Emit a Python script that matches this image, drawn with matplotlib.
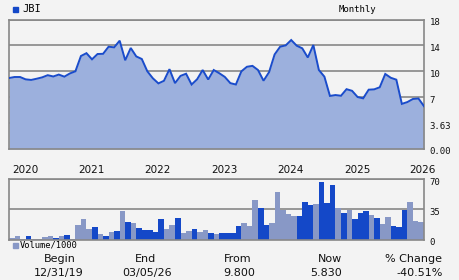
import numpy as np
import matplotlib
matplotlib.use("Agg")
import matplotlib.pyplot as plt
from matplotlib.transforms import ScaledTranslation

# ---------------- data ----------------
price = [9.22, 9.34, 9.34, 9.07, 9.00, 9.14, 9.30, 9.55, 9.40, 9.62,
         9.38, 9.75, 10.00, 12.36, 12.80, 11.85, 12.67, 12.70, 13.80, 13.70,
         14.73, 11.70, 13.60, 12.30, 11.90, 10.00, 9.19, 8.60, 8.90, 10.33,
         8.63, 9.47, 9.72, 8.47, 9.08, 10.20, 9.05, 10.20, 9.78, 9.35,
         8.63, 8.47, 10.00, 10.70, 10.84, 10.20, 8.91, 9.90, 12.60, 13.80,
         14.00, 14.83, 13.95, 13.55, 12.13, 14.06, 10.20, 9.38, 7.15, 7.25,
         7.17, 7.93, 7.74, 7.02, 6.85, 7.87, 7.91, 8.15, 9.69, 9.25,
         9.03, 6.13, 6.37, 6.77, 6.83, 5.83]

volume = [1.5, 3.5, 1.0, 3.5, 1.0, 0.8, 2.5, 3.5, 1.5, 3.5,
          4.7, 1.0, 16.4, 23.5, 11.7, 14.0, 5.9, 3.5, 8.2, 9.9,
          33.0, 20.2, 19.0, 13.2, 10.8, 10.8, 8.5, 23.7, 12.0, 16.7,
          24.8, 7.4, 9.7, 12.0, 8.5, 10.8, 7.4, 6.2, 7.4, 7.4,
          7.4, 15.5, 19.0, 15.5, 45.9, 36.6, 16.8, 19.0, 55.2, 34.3,
          29.5, 27.5, 27.2, 43.6, 40.1, 41.3, 67.0, 42.4, 63.8, 36.6,
          30.8, 34.3, 23.8, 30.8, 33.1, 28.5, 25.0, 18.0, 26.2, 15.7,
          14.5, 34.3, 43.6, 21.5, 20.3]

# 1 = up month (dark), 0 = down month (light)
vol_up = [0, 0, 0, 1, 0, 0, 0, 0, 1, 0,
          1, 0, 0, 0, 0, 1, 0, 1, 0, 1,
          0, 1, 0, 1, 1, 1, 1, 1, 0, 0,
          1, 0, 0, 1, 0, 0, 1, 0, 1, 1,
          1, 1, 0, 0, 0, 1, 1, 0, 0, 0,
          0, 0, 1, 1, 1, 0, 1, 1, 1, 0,
          1, 0, 1, 1, 1, 0, 1, 0, 0, 1,
          1, 1, 0, 0, 0]

year_labels = ["2020", "2021", "2022", "2023", "2024", "2025", "2026"]
year_pos = [2.9, 14.9, 26.9, 38.9, 50.9, 62.9, 74.8]

price_ticks = [0, 3.63, 7, 10, 14, 18]
price_tick_labels = ["0.00", "3.63", "7", "10", "14", "18"]
vol_ticks = [0, 35, 70]
vol_tick_labels = ["0", "35", "70"]

ticker = "JBI"
period = "Monthly"
footer_heads = ["Begin", "End", "From", "Now", "% Change"]
footer_vals = ["12/31/19", "03/05/26", "9.800", "5.830", "-40.51%"]

# ---------------- style ----------------
BG = "#f3f3f3"
SPINE = "#888888"
AREA = "#9cb0dd"
LINE = "#1a4ccb"
DARK = "#1448c8"
LIGHT = "#8898c6"
MONO = "DejaVu Sans Mono"

W, H = 460, 280
fig = plt.figure(figsize=(W / 100, H / 100), dpi=100, facecolor=BG)
down2 = ScaledTranslation(0, -2 / 100, fig.dpi_scale_trans)


def fx(px):
    return px / W


def fy(py):
    return 1 - py / H


# ---------------- price panel ----------------
L, R = 9, 424
ax = fig.add_axes([fx(L), fy(149), fx(R - L), (149 - 19.5) / H])
ax.set_facecolor(BG)

pos = np.arange(len(price_ticks), dtype=float)


def fwd(v):
    return np.interp(v, price_ticks, pos)


def inv(p):
    return np.interp(p, pos, price_ticks)


ax.set_yscale("function", functions=(fwd, inv))
ax.set_ylim(0, 18)
n = len(price)
xs = np.arange(n)
ax.set_xlim(0, n - 1)
ax.fill_between(xs, price, 0, color=AREA, lw=0, zorder=2)
ax.plot(xs, price, color=LINE, lw=1.4, zorder=3, solid_joinstyle="miter")
ax.set_yticks(price_ticks)
ax.set_yticklabels(price_tick_labels)
ax.yaxis.tick_right()
ax.tick_params(axis="y", length=0, pad=4, labelsize=6.5, colors="#111111")
for t in ax.get_yticklabels():
    t.set_fontfamily(MONO)
    t.set_transform(t.get_transform() + down2)
ax.set_xticks([])
ax.grid(axis="y", color=SPINE, lw=1.2, zorder=1)
for s in ax.spines.values():
    s.set_color(SPINE)
    s.set_linewidth(1.2)

# ---------------- volume panel ----------------
av = fig.add_axes([fx(L), fy(239.5), fx(R - L), (239.5 - 179.3) / H])
av.set_facecolor(BG)
nb = len(volume)
bx = np.arange(nb) + 0.5
cols = [DARK if u else LIGHT for u in vol_up]
av.bar(bx, volume, width=1.0, color=cols, lw=0, zorder=2)
av.set_xlim(0, nb)
av.set_ylim(0, 70)
av.set_yticks(vol_ticks)
av.set_yticklabels(vol_tick_labels)
av.yaxis.tick_right()
av.tick_params(axis="y", length=0, pad=4, labelsize=6.5, colors="#111111")
for t in av.get_yticklabels():
    t.set_fontfamily(MONO)
    t.set_transform(t.get_transform() + down2)
av.grid(axis="y", color=SPINE, lw=1.2, zorder=1)
av.xaxis.tick_top()
av.set_xticks(year_pos)
av.set_xticklabels(year_labels)
av.tick_params(axis="x", length=0, pad=3, labelsize=7.5, colors="#111111")
for s in av.spines.values():
    s.set_color(SPINE)
    s.set_linewidth(1.2)

# ---------------- header / legends ----------------
fig.patches.append(plt.Rectangle((fx(13), fy(12)), fx(5), 5 / H,
                                 transform=fig.transFigure, color=DARK))
fig.text(fx(22), fy(9.5), ticker, fontsize=7.5, family=MONO, va="center", ha="left")
fig.text(fx(357), fy(9.5), period, fontsize=6.5, family=MONO, va="center", ha="center")

fig.patches.append(plt.Rectangle((fx(13), fy(247.5)), fx(4.5), 4.5 / H,
                                 transform=fig.transFigure, color=LIGHT))
fig.text(fx(20), fy(245.5), "Volume/1000", fontsize=6.3, family=MONO, va="center", ha="left")

head_x = [60, 146, 238, 330, 414]
val_x = [59, 147, 239, 326, 420]
for hx, vx, h, v in zip(head_x, val_x, footer_heads, footer_vals):
    fig.text(fx(hx), fy(259.5), h, fontsize=8, va="center", ha="center", color="#111111")
    fig.text(fx(vx), fy(273), v, fontsize=8, va="center", ha="center", color="#111111")

fig.savefig("out.png", dpi=100, facecolor=BG)
